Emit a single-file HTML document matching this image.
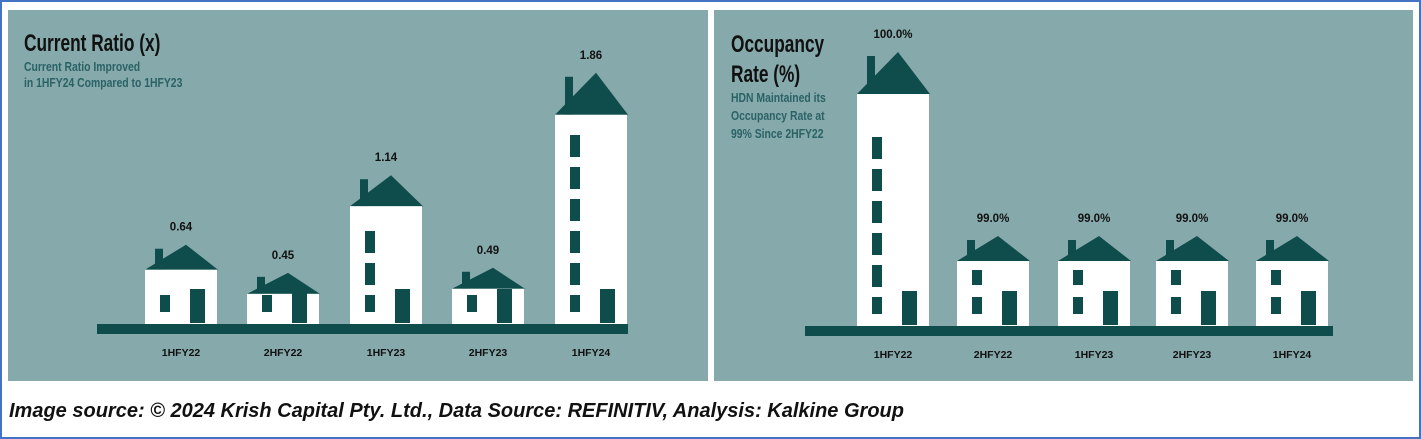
<!DOCTYPE html>
<html><head><meta charset="utf-8"><style>
body{margin:0;width:1421px;height:439px;background:#fff;position:relative;overflow:hidden;font-family:"Liberation Sans",sans-serif}
#frame{position:absolute;left:0;top:0;width:1417px;height:435px;border:2px solid #4472c4}
.panel{position:absolute;top:10px;height:371px;background:#86a9ab}
.title{position:absolute;font-family:"Liberation Sans Narrow","Liberation Sans",sans-serif;font-weight:bold;color:#111;font-size:24px;line-height:27px;transform:scaleX(0.72);transform-origin:left top}
.sub{position:absolute;font-family:"Liberation Sans Narrow","Liberation Sans",sans-serif;font-weight:bold;color:#2a6265;font-size:13px;line-height:16px;transform:scaleX(0.8);transform-origin:left top}
#caption{position:absolute;left:9px;top:400px;font-weight:bold;font-style:italic;font-size:20px;color:#111}
svg{position:absolute;left:0;top:0}
</style></head><body>
<div id="frame"></div>
<div class="panel" style="left:8px;width:700px"></div>
<div class="panel" style="left:714px;width:699px"></div>
<div class="title" style="left:24px;top:30px">Current Ratio (x)</div>
<div class="sub" style="left:24px;top:59px">Current Ratio Improved<br>in 1HFY24 Compared to 1HFY23</div>
<div class="title" style="left:731px;top:30px;line-height:30px">Occupancy<br>Rate (%)</div>
<div class="sub" style="left:731px;top:89px;line-height:18px">HDN Maintained its<br>Occupancy Rate at<br>99% Since 2HFY22</div>
<div id="caption">Image source: © 2024 Krish Capital Pty. Ltd., Data Source: REFINITIV, Analysis: Kalkine Group</div>
<svg id="chart" width="1421" height="439"></svg>
<script>
const categories=["1HFY22","2HFY22","1HFY23","2HFY23","1HFY24"];
const ratioValues=[0.64,0.45,1.14,0.49,1.86];
const ratioLabels=["0.64","0.45","1.14","0.49","1.86"];
const occValues=[100.0,99.0,99.0,99.0,99.0];
const occLabels=["100.0%","99.0%","99.0%","99.0%","99.0%"];
const NS="http://www.w3.org/2000/svg";
const svg=document.getElementById('chart');
const DARK="#0f4c4c";
function mk(tag,attrs,name){const e=document.createElementNS(NS,tag);for(const k in attrs)e.setAttribute(k,attrs[k]);


svg.appendChild(e);return e;}
function drawChart(cfg,vals,labels){
  const g=cfg.ground;
  mk('rect',{x:cfg.gx0,y:g,width:cfg.gx1-cfg.gx0,height:10,fill:DARK},cfg.id+'-ground');
  vals.forEach((v,i)=>{
    const h=cfg.scale(v);const x=cfg.xs[i];const w=72;const top=g-h;
    const rh=h>150?42:(h>80?31:(h>45?25:21));
    const peak=top-rh;
    mk('rect',{x:x+10,y:peak+4,width:8,height:rh-4,fill:DARK},cfg.id+'-chimney-'+categories[i]);
    mk('polygon',{points:`${x},${top} ${x+w/2+5},${peak} ${x+w+1},${top}`,fill:DARK},cfg.id+'-roof-'+categories[i]);
    mk('rect',{x:x,y:top,width:w,height:h,fill:'#fff'},cfg.id+'-bar-'+categories[i]);
    mk('rect',{x:x+45,y:g-35,width:15,height:34,fill:DARK},cfg.id+'-door-'+categories[i]);
    let ys=[g-29];let y=g-29-32;
    while(y>=top+20){ys.push(y);y-=32;}
    if(ys.length===1&&g-29-27>=top+8)ys.push(g-29-27);
    ys.forEach((wy,j)=>mk('rect',{x:x+15,y:wy,width:10,height:j===0?17:(ys.length===2&&h<80?15:22),fill:DARK},cfg.id+'-window-'+categories[i]));
    const t=mk('text',{x:x+w/2,y:peak-14,'text-anchor':'middle','font-size':'11.5','font-weight':'bold','font-family':'Liberation Sans, sans-serif',fill:'#111'},cfg.id+'-value-label-'+categories[i]);
    t.textContent=labels[i];
    const c=mk('text',{x:x+w/2,y:g+32,'text-anchor':'middle','font-size':'10.5','font-weight':'bold','font-family':'Liberation Sans Narrow, Liberation Sans, sans-serif',fill:'#111'},cfg.id+'-x-label-'+categories[i]);
    c.textContent=categories[i];
  });
}
drawChart({id:'ratio',ground:324,gx0:97,gx1:628,xs:[145,247,350,452,555],scale:v=>127*v-27},ratioValues,ratioLabels);
drawChart({id:'occ',ground:326,gx0:805,gx1:1333,xs:[857,957,1058,1156,1256],scale:v=>65+(v-99)*167},occValues,occLabels);
</script>
</body></html>
